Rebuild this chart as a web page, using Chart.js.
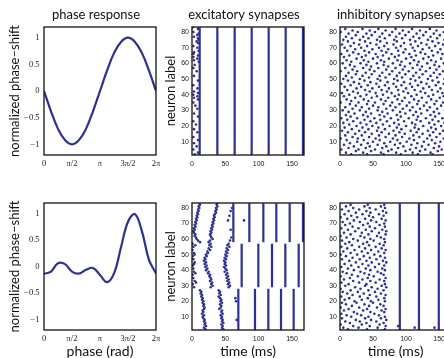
<!DOCTYPE html>
<html>
<head>
<meta charset="utf-8">
<script src="https://cdn.jsdelivr.net/npm/chart.js@4.4.1/dist/chart.umd.min.js"></script>
<style>
  html, body { margin: 0; padding: 0; background: #fff; }
  body { width: 444px; height: 358px; overflow: hidden; position: relative; }
  canvas { position: absolute; }
</style>
</head>
<body>
<canvas id="prcTopChart" width="160" height="180" style="left:0;top:0"></canvas>
<canvas id="excTopChart" width="160" height="180" style="left:150px;top:0"></canvas>
<canvas id="inhTopChart" width="160" height="180" style="left:300px;top:0"></canvas>
<canvas id="prcBotChart" width="160" height="178" style="left:0;top:180px"></canvas>
<canvas id="excBotChart" width="160" height="178" style="left:150px;top:180px"></canvas>
<canvas id="inhBotChart" width="160" height="178" style="left:300px;top:180px"></canvas>
<script>
'use strict';

// phase axis in units of pi
let phaseX = [0, 0.125, 0.25, 0.375, 0.5, 0.625, 0.75, 0.875, 1, 1.125, 1.25, 1.375, 1.5, 1.625, 1.75, 1.875, 2];
let prcTop = [0, -0.38, -0.71, -0.92, -1, -0.92, -0.71, -0.38, 0, 0.38, 0.71, 0.92, 1, 0.92, 0.71, 0.38, 0];
let prcBottom = [-0.14, -0.095, 0.06, 0.044, -0.096, -0.133, -0.063, -0.027, -0.16, -0.297, -0.131, 0.363, 0.846, 0.99, 0.66, 0.124, -0.13];

let phaseTicks = [0, 0.5, 1, 1.5, 2];
let phaseTickLabels = ['0', 'π/2', 'π', '3π/2', '2π'];
let shiftTicks = [-1, -0.5, 0, 0.5, 1];
let shiftTickLabels = ['−1', '−0.5', '0', '0.5', '1'];
let timeTicks = [0, 50, 100, 150];
let neuronTicks = [10, 20, 30, 40, 50, 60, 70, 80];

// synchronous volleys: [time (ms), first neuron, last neuron]
let excTopVolleys = [[11.5, 1, 83], [38, 1, 83], [64, 1, 83], [89.5, 1, 83], [115, 1, 83], [140.5, 1, 83], [166.5, 1, 83]];
// scattered spikes: [time (ms), neuron]
let excTopSpikes = [[1,83],[9,82],[2,80],[10,79],[8,78],[3,77],[9,76],[10,75],[7,74],[9,73],[2,71],[8,70],[10,68],[3,67],[2,66],[9,65],[2,64],[8,63],[3,62],[10,61],[4,59],[2,57],[7,55],[3,52],[9,49],[2,46],[8,44],[3,42],[9,41],[2,40],[8,39],[3,38],[9,37],[2,35],[5,33],[8,31],[3,28],[9,26],[2,23],[6,21],[3,18],[8,16],[2,13],[9,11],[3,9],[7,7],[2,5],[9,3],[4,2]];

// spike times per neuron (row i = neuron i+1)
let inhTopRows = [
  [4,30,55,79,103,131,158],[17,41,66,92,118,140,163],[9,35,62,85,110,137,161],[24,47,73,99,121,148],
  [2,28,53,78,106,129,154],[13,39,64,88,115,142,165],[21,45,70,96,124,150],[6,32,57,83,108,134,159],
  [15,42,67,91,117,144],[26,50,76,101,127,152],[10,36,60,87,112,139,162],[1,27,54,80,105,132,157],
  [19,44,69,94,120,146],[8,33,59,84,111,136,160],[23,48,74,98,125,151],[12,38,63,90,116,141,164],
  [3,29,56,81,107,133,156],[18,43,68,93,119,145],[7,34,58,86,113,138,161],[25,49,75,100,126,153],
  [14,40,65,89,114,143,165],[5,31,55,82,109,135,158],[20,46,71,97,122,149],[11,37,61,88,116,140,163],
  [2,26,52,77,104,130,155],[16,42,67,92,118,144],[9,35,60,86,111,137,162],[22,47,72,99,123,150],
  [13,39,64,91,115,142,164],[4,30,57,80,106,132,159],[19,44,70,95,121,147],[8,33,58,84,110,136,160],
  [24,50,76,101,127,153],[15,41,66,90,117,143,165],[1,28,53,79,105,131,156],[17,43,69,94,119,146],
  [10,36,62,87,112,138,163],[23,48,73,98,124,151],[6,31,56,83,108,134,157],[14,40,65,89,116,141,164],
  [3,27,54,78,103,129,155],[20,45,71,96,122,148],[11,38,63,88,113,139,161],[25,49,74,100,126,152],
  [7,32,59,85,109,135,160],[16,42,68,93,118,145],[2,29,55,81,106,131,157],[21,46,72,97,123,149],
  [12,37,61,87,114,140,165],[5,30,57,82,107,133,158],[18,44,69,94,120,147],[9,34,60,86,111,137,162],
  [24,48,75,99,125,151],[13,39,64,90,115,142,164],[1,26,52,79,104,130,156],[19,45,70,95,121,146],
  [8,35,58,84,110,136,161],[22,47,73,98,124,150],[15,40,66,91,117,143,165],[4,31,56,80,106,132,157],
  [17,43,67,93,119,145],[10,36,62,87,112,138,163],[25,50,74,100,126,153],[6,33,57,83,108,134,159],
  [14,39,65,89,115,141,164],[2,28,54,78,105,129,155],[20,44,70,96,122,148],[11,37,63,88,113,139,162],
  [23,49,73,99,125,152],[7,32,59,85,110,135,160],[16,41,67,92,118,144],[3,29,55,81,107,131,156],
  [21,46,71,97,123,149],[12,38,61,86,114,140,165],[5,30,56,82,106,133,158],[18,43,68,94,120,147],
  [9,35,60,85,111,137,161],[24,48,75,99,126,151],[13,40,64,90,116,142,164],[1,27,53,79,104,130,157],
  [19,45,69,95,121,146],[8,34,58,84,109,136,160]
];

let excBotVolleys = [
  [62, 58, 83], [86, 58, 83], [107, 58, 83], [126.5, 58, 83], [146.5, 58, 83], [166.5, 58, 83],
  [74.5, 29, 57], [99.5, 29, 57], [120, 29, 57], [140, 29, 57], [160, 29, 57],
  [69.5, 1, 28], [94.5, 1, 28], [114.5, 1, 28], [133.5, 1, 28], [152.5, 1, 28]
];
let excBotSpikes = [
  [11,83],[12,82],[10,81],[11,80],[9,79],[10,78],[8,77],[9,76],[7,75],[8,74],[6,73],[7,72],[5,71],[6,70],[4,69],[5,68],[3,67],[4,66],[2,65],[3,64],[5,63],[4,62],[6,61],[7,60],[9,59],[12,58],
  [38,83],[37,82],[38,81],[36,80],[37,79],[35,78],[36,77],[34,76],[33,75],[34,74],[32,73],[33,72],[31,71],[32,70],[30,69],[31,68],[29,67],[30,66],[28,65],[29,64],[27,63],[28,62],[29,61],[31,60],[27,59],[25,58],
  [54,72],[56,75],[58,78],[60,80],[58,66],[59,61],[57,59],[78,72],
  [1,57],[2,55],[0.5,53],[3,51],[1,49],[2,47],[4,45],[1,43],[2,41],[3,39],[1,37],[2,35],[4,33],[1,31],[3,29],[5,56],[4,50],[3,44],[5,38],[6,32],
  [28,57],[26,56],[29,55],[25,54],[27,53],[23,52],[24,51],[21,50],[22,49],[19,48],[20,47],[18,46],[21,45],[19,44],[22,43],[20,42],[23,41],[21,40],[25,39],[24,38],[27,37],[26,36],[28,35],[29,34],[27,33],[30,32],[29,31],[31,30],[28,29],
  [55,57],[53,56],[56,55],[52,54],[54,53],[51,52],[53,51],[50,50],[52,49],[49,48],[51,47],[48,46],[50,45],[49,44],[51,43],[48,42],[50,41],[52,40],[49,39],[53,38],[51,37],[54,36],[52,35],[55,34],[53,33],[56,32],[54,31],[57,30],[55,29],
  [12,27],[14,26],[13,25],[15,24],[14,23],[16,22],[15,21],[17,20],[16,19],[18,18],[17,17],[19,16],[18,15],[16,14],[17,13],[15,12],[18,11],[16,10],[17,9],[19,8],[18,7],[20,6],[19,5],[21,4],[18,3],[20,2],[19,1],
  [40,27],[42,26],[41,25],[43,24],[40,23],[42,22],[44,21],[43,20],[45,19],[42,18],[44,17],[43,16],[41,15],[45,14],[44,13],[46,12],[43,11],[45,10],[44,9],[46,8],[45,7],[47,6],[44,5],[46,4],[45,3],[47,2],[43,1],
  [66,20],[65,22],[67,8]
];

let inhBotVolleys = [[90.5, 1, 83], [119.5, 1, 83], [149.5, 1, 83]];
let inhBotRows = [
  [2,36,64],[12,41,68],[5,28,57],[20,45,69],[1,33,60],[15,40,66],[8,30,55],[24,47,70],[3,38,62],[17,43,68],
  [10,32,59],[2,26,52],[21,46,67],[6,35,63],[13,41,69],[1,29,56],[18,44,66],[9,37,61],[3,25,50],[22,47,68],
  [7,33,58],[14,42,67],[2,30,55],[19,45,69],[11,36,62],[4,27,53],[16,43,66],[1,31,57],[23,48,70],[8,38,63],
  [13,40,68],[2,29,54],[20,46,67],[6,34,60],[15,42,69],[1,27,51],[18,44,66],[10,37,62],[4,31,57],[21,46,68],
  [12,39,64],[2,28,53],[17,43,67],[7,34,59],[24,48,70],[14,40,65],[3,30,55],[19,45,68],[9,36,61],[1,26,52],
  [16,42,67],[5,33,58],[22,47,69],[11,38,63],[2,29,54],[18,44,66],[8,35,60],[14,41,68],[3,27,51],[20,46,67],
  [10,37,62],[1,31,56],[16,43,69],[6,33,59],[23,48,70],[12,39,64],[2,28,53],[19,45,68],[8,35,60],[15,42,67],
  [4,30,55],[21,47,69],[11,38,63],[1,26,50],[17,44,66],[7,34,59],[24,46,70],[13,40,65],[3,29,54],[20,45,68],
  [9,37,62],[16,42,67]
];
let inhBotStray = [[88, 4], [113, 3], [143, 3]];

const blue = '#2e3192';

function rowsToPairs(rows) {
  let pairs = [];
  for (let i = 0; i < rows.length; i++) {
    for (let j = 0; j < rows[i].length; j++) {
      pairs.push([rows[i][j], i + 1]);
    }
  }
  return pairs;
}

function spikeDataset(pairs) {
  return {
    data: pairs.map(p => ({ x: p[0], y: p[1] })),
    pointRadius: 1.3,
    pointBackgroundColor: blue,
    pointBorderWidth: 0,
    showLine: false
  };
}

function volleyDatasets(volleys) {
  return volleys.map(v => ({
    data: [{ x: v[0], y: v[1] }, { x: v[0], y: v[2] }],
    showLine: true,
    borderColor: blue,
    borderWidth: 2.2,
    pointRadius: 0
  }));
}

function curveDataset(values) {
  return {
    data: phaseX.map((x, i) => ({ x: x, y: values[i] })),
    showLine: true,
    borderColor: blue,
    borderWidth: 2.2,
    pointRadius: 0,
    tension: 0.4
  };
}

// draws the box round the plot area and the panel title
const panelPlugin = {
  id: 'panel',
  afterDatasetsDraw(chart, args, opts) {
    const ctx = chart.ctx;
    const a = chart.chartArea;
    ctx.save();
    ctx.strokeStyle = '#111';
    ctx.lineWidth = 1.3;
    ctx.strokeRect(a.left, a.top, a.right - a.left, a.bottom - a.top);
    if (opts.title) {
      ctx.fillStyle = '#111';
      ctx.font = '13px Lato';
      ctx.textAlign = 'center';
      ctx.textBaseline = 'middle';
      ctx.fillText(opts.title, (a.left + a.right) / 2 - 4, 15);
    }
    ctx.restore();
  }
};

function makePanel(id, cfg) {
  const tickFont = cfg.serif ? { family: 'Liberation Serif', size: 8.5 } : { family: 'Liberation Sans', size: 7 };
  return new Chart(document.getElementById(id), {
    type: 'scatter',
    data: { datasets: cfg.datasets },
    options: {
      responsive: false,
      animation: false,
      events: [],
      layout: { padding: { left: 0, top: cfg.top, right: cfg.right, bottom: 0 } },
      plugins: {
        legend: { display: false },
        tooltip: { enabled: false },
        panel: { title: cfg.title }
      },
      scales: {
        x: {
          type: 'linear',
          min: cfg.xMin,
          max: cfg.xMax,
          grid: { display: false, drawTicks: false },
          border: { display: false },
          ticks: {
            font: tickFont, color: '#222', padding: cfg.serif ? 4 : 5,
            maxRotation: 0, autoSkip: false,
            callback: (v, i) => cfg.xLabels[i]
          },
          title: {
            display: !!cfg.xTitle, text: cfg.xTitle, color: '#111',
            font: { family: 'Lato', size: 14, lineHeight: 1 }, padding: 0
          },
          afterBuildTicks: s => { s.ticks = cfg.xTicks.map(v => ({ value: v })); },
          afterFit: s => { s.height = cfg.xHeight; s.paddingLeft = 0; s.paddingRight = 0; }
        },
        y: {
          type: 'linear',
          min: cfg.yMin,
          max: cfg.yMax,
          grid: { display: false, drawTicks: false },
          border: { display: false },
          ticks: {
            font: tickFont, color: '#222', padding: cfg.serif ? 4.5 : 3,
            autoSkip: false,
            callback: (v, i) => cfg.yLabels[i]
          },
          title: {
            display: !!cfg.yTitle, text: cfg.yTitle, color: '#111',
            font: { family: 'Lato', size: 13, lineHeight: 1 },
            padding: { top: cfg.yTitlePad || 0, bottom: 0 }
          },
          afterBuildTicks: s => { s.ticks = cfg.yTicks.map(v => ({ value: v })); },
          afterFit: s => { s.width = cfg.yWidth; s.paddingTop = 0; s.paddingBottom = 0; }
        }
      }
    },
    plugins: [panelPlugin]
  });
}

const phaseAxes = {
  serif: true, xMin: 0, xMax: 2, yMin: -1.2, yMax: 1.2,
  xTicks: phaseTicks, xLabels: phaseTickLabels,
  yTicks: shiftTicks, yLabels: shiftTickLabels,
  yTitle: 'normalized phase–shift', yTitlePad: 8.5, yWidth: 44, right: 4
};
const rasterAxes = {
  serif: false, xMin: 0, xMax: 168, yMin: 1.5, yMax: 83.2,
  xTicks: timeTicks, xLabels: timeTicks.map(String),
  yTicks: neuronTicks, yLabels: neuronTicks.map(String)
};

makePanel('prcTopChart', Object.assign({}, phaseAxes, {
  title: 'phase response', top: 27, xHeight: 25,
  datasets: [curveDataset(prcTop)]
}));
makePanel('prcBotChart', Object.assign({}, phaseAxes, {
  top: 23, xHeight: 28, xTitle: 'phase (rad)',
  datasets: [curveDataset(prcBottom)]
}));
makePanel('excTopChart', Object.assign({}, rasterAxes, {
  title: 'excitatory synapses', top: 27, xHeight: 25,
  yTitle: 'neuron label', yTitlePad: 14.5, yWidth: 42, right: 6,
  datasets: volleyDatasets(excTopVolleys).concat([spikeDataset(excTopSpikes)])
}));
makePanel('excBotChart', Object.assign({}, rasterAxes, {
  top: 23, xHeight: 28, xTitle: 'time (ms)',
  yTitle: 'neuron label', yTitlePad: 14.5, yWidth: 42, right: 6,
  datasets: volleyDatasets(excBotVolleys).concat([spikeDataset(excBotSpikes)])
}));
makePanel('inhTopChart', Object.assign({}, rasterAxes, {
  title: 'inhibitory synapses', top: 27, xHeight: 25, yWidth: 40, right: 9,
  datasets: [spikeDataset(rowsToPairs(inhTopRows))]
}));
makePanel('inhBotChart', Object.assign({}, rasterAxes, {
  top: 23, xHeight: 28, xTitle: 'time (ms)', yWidth: 40, right: 9,
  datasets: volleyDatasets(inhBotVolleys).concat([spikeDataset(rowsToPairs(inhBotRows).concat(inhBotStray))])
}));
</script>
</body>
</html>
